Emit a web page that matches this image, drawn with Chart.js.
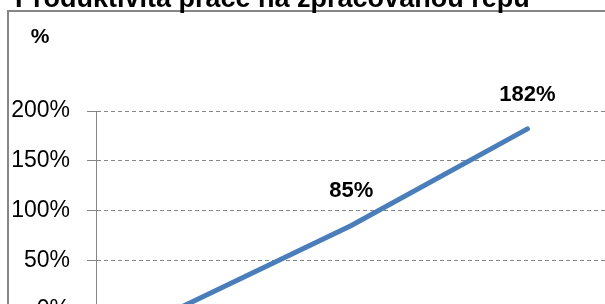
<!DOCTYPE html>
<html>
<head>
<meta charset="utf-8">
<script src="https://cdn.jsdelivr.net/npm/chart.js@4"></script>
<style>
  html, body { margin: 0; padding: 0; overflow: hidden; background: #fff; }
  #wrap { position: absolute; left: 0; top: 0; }
</style>
</head>
<body>
<div id="wrap"><canvas id="myChart" width="700" height="400"></canvas></div>
<script>
const chartTitle = 'Produktivita práce na zpracovanou řepu';
const unitLabel = '%';
const categories = ['2005', '2006', '2007'];
const productivity = [0, 85, 182];
const yTicks = [0, 50, 100, 150, 200];

const FONT = '"Liberation Sans", Arial, sans-serif';
const GREY = '#868686';

// outer frame, cut-off title and the "%" unit above the axis
const framePlugin = {
  id: 'frame',
  beforeDraw(chart) {
    const ctx = chart.ctx;
    ctx.save();
    ctx.fillStyle = '#fff';
    ctx.fillRect(0, 0, chart.width, chart.height);
    ctx.strokeStyle = GREY;
    ctx.lineWidth = 2;
    ctx.strokeRect(8, 11, 1000, 1000);
    ctx.fillStyle = '#000';
    ctx.textBaseline = 'alphabetic';
    ctx.textAlign = 'left';
    ctx.font = 'bold 27px ' + FONT;
    ctx.fillText(chartTitle, 15, 7);
    ctx.textAlign = 'center';
    ctx.textBaseline = 'middle';
    ctx.font = 'bold 21px ' + FONT;
    ctx.fillText(unitLabel, 40, 37);
    ctx.restore();
  }
};

const pointLabels = {
  id: 'pointLabels',
  afterDatasetsDraw(chart) {
    const ctx = chart.ctx;
    const meta = chart.getDatasetMeta(0);
    ctx.save();
    ctx.font = 'bold 22px ' + FONT;
    ctx.fillStyle = '#000';
    ctx.textAlign = 'center';
    ctx.textBaseline = 'middle';
    meta.data.forEach((pt, i) => {
      if (i === 0) return; // first label falls outside the crop
      ctx.fillText(productivity[i] + '%', pt.x, pt.y - 34);
    });
    ctx.restore();
  }
};

const data = {
  datasets: [{
    label: chartTitle,
    data: productivity.map((v, i) => ({ x: i, y: v })),
    borderColor: '#4a7ebb',
    borderWidth: 5,
    borderCapStyle: 'round',
    pointRadius: 0,
    tension: 0,
  }],
};

const config = {
  type: 'line',
  data: data,
  plugins: [framePlugin, pointLabels],
  options: {
    responsive: false,
    animation: false,
    devicePixelRatio: 1,
    layout: { padding: { top: 111, left: 0, right: 0, bottom: 0 } },
    plugins: { legend: { display: false }, tooltip: { enabled: false } },
    scales: {
      x: {
        type: 'linear',
        min: -0.45,
        max: 2.98,
        afterBuildTicks: (s) => { s.ticks = categories.map((c, i) => ({ value: i })); },
        afterFit: (s) => { s.height = 90; },
        ticks: {
          callback: (v) => categories[v],
          color: '#000',
          font: { family: FONT, size: 23 },
        },
        grid: { display: false },
        border: { color: GREY, width: 1 },
      },
      y: {
        min: 0,
        max: 200,
        afterBuildTicks: (s) => { s.ticks = yTicks.map((v) => ({ value: v })); },
        afterFit: (s) => { s.width = 96; },
        ticks: {
          callback: (v) => v + '%',
          color: '#000',
          padding: 17,
          font: { family: FONT, size: 23 },
        },
        grid: {
          color: GREY,
          lineWidth: 1,
          tickLength: 9,
          tickColor: GREY,
        },
        border: { color: GREY, width: 1, dash: [4, 3] },
      },
    },
  },
};

const myChart = new Chart(document.getElementById('myChart'), config);
</script>
</body>
</html>
